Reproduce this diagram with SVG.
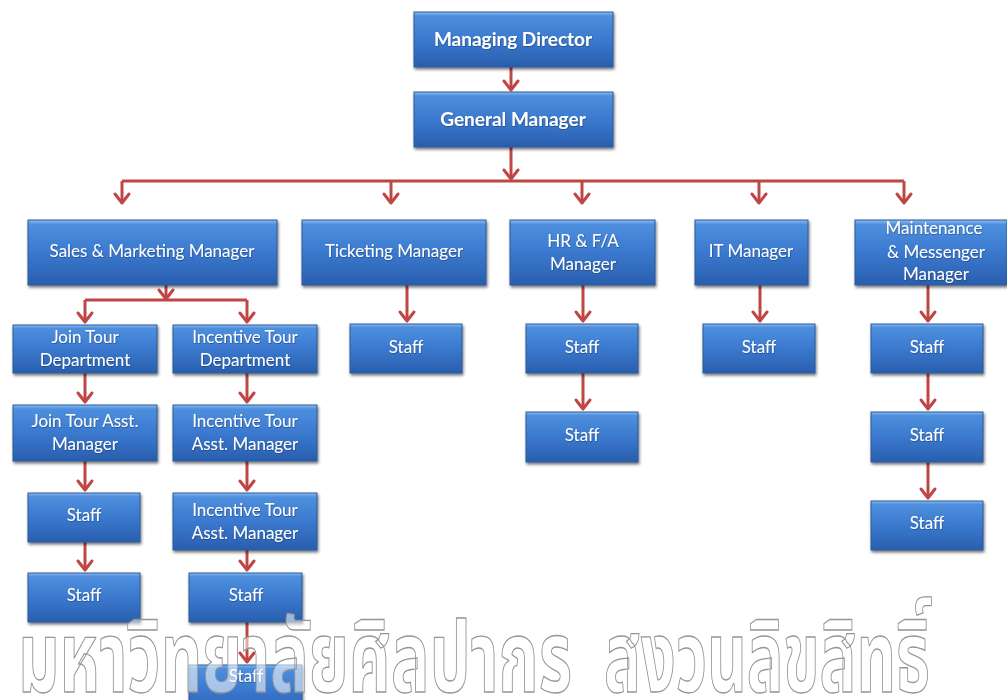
<svg xmlns="http://www.w3.org/2000/svg" width="1007" height="700" viewBox="0 0 1007 700">
<defs>
<linearGradient id="g" x1="0" y1="0" x2="0" y2="1">
<stop offset="0" stop-color="#8cbcf0"/>
<stop offset="0.07" stop-color="#4e8fdd"/>
<stop offset="0.5" stop-color="#3a79cf"/>
<stop offset="1" stop-color="#2a5ead"/>
</linearGradient>
<filter id="sh" x="-10%" y="-10%" width="125%" height="135%">
<feDropShadow dx="1" dy="2" stdDeviation="1.5" flood-color="#000" flood-opacity="0.55"/>
</filter>
<filter id="ts" x="-5%" y="-20%" width="115%" height="150%">
<feDropShadow dx="0.5" dy="0.7" stdDeviation="0.6" flood-color="#0b2550" flood-opacity="0.6"/>
</filter>
<marker id="ah" markerUnits="userSpaceOnUse" markerWidth="24" markerHeight="24" viewBox="-12 -12 24 24" refX="0" refY="0" orient="auto">
<path d="M-9,-7 L0,0 L-9,7" fill="none" stroke="#bf4644" stroke-width="3" stroke-linecap="round" stroke-linejoin="round"/>
</marker>
</defs>
<style>
.b{fill:url(#g);stroke:#2c5a9c;stroke-width:1;filter:url(#sh)}
.t{font-family:Lato,"Open Sans",sans-serif;font-size:17px;fill:#fff;text-anchor:middle;filter:url(#ts)}
.tb{font-weight:bold;font-size:19px}
.c{fill:none;stroke:#bf4644;stroke-width:3}
.a{marker-end:url(#ah)}
.wm{font-family:"Noto Sans Thai","Loma","Garuda","Norasi","DejaVu Sans",sans-serif;font-size:40px;font-weight:bold;fill:#fff;fill-opacity:0.55;stroke:#959595;stroke-width:1;vector-effect:non-scaling-stroke}
</style>
<rect width="1007" height="700" fill="#fff"/>

<g id="connectors">
<path class="c a" d="M511,67 V90"/>
<path class="c a" d="M511,147 V179"/>
<path class="c" d="M122,181 H904"/>
<path class="c a" d="M122,181 V203"/>
<path class="c a" d="M391,181 V203"/>
<path class="c a" d="M582,181 V203"/>
<path class="c a" d="M759,181 V203"/>
<path class="c a" d="M904,181 V203"/>
<path class="c a" d="M166,285 V299"/>
<path class="c" d="M85,300 H247"/>
<path class="c a" d="M85,300 V322"/>
<path class="c a" d="M247,300 V322"/>
<path class="c a" d="M407,285 V321"/>
<path class="c a" d="M583,285 V321"/>
<path class="c a" d="M583,373 V409"/>
<path class="c a" d="M760,285 V321"/>
<path class="c a" d="M928,285 V321"/>
<path class="c a" d="M928,373 V409"/>
<path class="c a" d="M928,462 V498"/>
<path class="c a" d="M85,373 V402"/>
<path class="c a" d="M247,373 V402"/>
<path class="c a" d="M85,461 V490"/>
<path class="c a" d="M247,461 V490"/>
<path class="c a" d="M85,542 V570"/>
<path class="c a" d="M247,550 V570"/>
<path class="c a" d="M247,622 V662"/>
</g>

<g id="managing-director"><rect class="b" x="414" y="12" width="199" height="55"/><text class="t tb" x="513" y="46">Managing Director</text></g>
<g id="general-manager"><rect class="b" x="414" y="92" width="199" height="55"/><text class="t tb" x="513" y="126">General Manager</text></g>

<g id="sales-marketing-manager"><rect class="b" x="28" y="220" width="249" height="65"/><text class="t" x="152" y="257">Sales &amp; Marketing Manager</text></g>
<g id="ticketing-manager"><rect class="b" x="302" y="220" width="184" height="65"/><text class="t" x="394" y="257">Ticketing Manager</text></g>
<g id="hr-fa-manager"><rect class="b" x="510" y="220" width="145" height="65"/><text class="t" x="583" y="247">HR &amp; F/A</text><text class="t" x="583" y="270">Manager</text></g>
<g id="it-manager"><rect class="b" x="695" y="220" width="113" height="65"/><text class="t" x="751" y="257">IT Manager</text></g>
<g id="maintenance-manager"><rect class="b" x="855" y="220" width="152" height="65"/><text class="t" x="934" y="234">Maintenance</text><text class="t" x="936" y="258">&amp; Messenger</text><text class="t" x="936" y="280">Manager</text></g>

<g id="join-tour-department"><rect class="b" x="13" y="325" width="144" height="48"/><text class="t" x="85" y="343">Join Tour</text><text class="t" x="85" y="366">Department</text></g>
<g id="incentive-tour-department"><rect class="b" x="173" y="325" width="144" height="48"/><text class="t" x="245" y="343">Incentive Tour</text><text class="t" x="245" y="366">Department</text></g>
<g id="ticketing-staff"><rect class="b" x="350" y="324" width="112" height="49"/><text class="t" x="406" y="353">Staff</text></g>
<g id="hr-staff-1"><rect class="b" x="526" y="324" width="112" height="49"/><text class="t" x="582" y="353">Staff</text></g>
<g id="hr-staff-2"><rect class="b" x="526" y="412" width="112" height="50"/><text class="t" x="582" y="441">Staff</text></g>
<g id="it-staff"><rect class="b" x="703" y="324" width="112" height="49"/><text class="t" x="759" y="353">Staff</text></g>
<g id="maint-staff-1"><rect class="b" x="871" y="324" width="112" height="49"/><text class="t" x="927" y="353">Staff</text></g>
<g id="maint-staff-2"><rect class="b" x="871" y="412" width="112" height="50"/><text class="t" x="927" y="441">Staff</text></g>
<g id="maint-staff-3"><rect class="b" x="871" y="501" width="112" height="49"/><text class="t" x="927" y="529">Staff</text></g>

<g id="join-tour-asst-manager"><rect class="b" x="13" y="405" width="144" height="56"/><text class="t" x="85" y="427">Join Tour Asst.</text><text class="t" x="85" y="450">Manager</text></g>
<g id="incentive-tour-asst-manager-1"><rect class="b" x="173" y="405" width="144" height="56"/><text class="t" x="245" y="427">Incentive Tour</text><text class="t" x="245" y="450">Asst. Manager</text></g>
<g id="join-staff-1"><rect class="b" x="28" y="493" width="112" height="49"/><text class="t" x="84" y="521">Staff</text></g>
<g id="incentive-tour-asst-manager-2"><rect class="b" x="173" y="493" width="144" height="57"/><text class="t" x="245" y="516">Incentive Tour</text><text class="t" x="245" y="539">Asst. Manager</text></g>
<g id="join-staff-2"><rect class="b" x="28" y="573" width="112" height="49"/><text class="t" x="84" y="601">Staff</text></g>
<g id="incentive-staff-1"><rect class="b" x="189" y="573" width="113" height="49"/><text class="t" x="246" y="601">Staff</text></g>
<g id="incentive-staff-2"><rect class="b" x="189" y="665" width="113" height="49"/><text class="t" x="246" y="682">Staff</text></g>

<g id="watermark">
<text class="wm" transform="translate(18,692) scale(1,2.5)" x="0" y="0" textLength="554" lengthAdjust="spacingAndGlyphs">มหาวิทยาลัยศิลปากร</text>
<text class="wm" transform="translate(604,692) scale(1,2.5)" x="0" y="0" textLength="326" lengthAdjust="spacingAndGlyphs">สงวนลิขสิทธิ์</text>
</g>
</svg>
